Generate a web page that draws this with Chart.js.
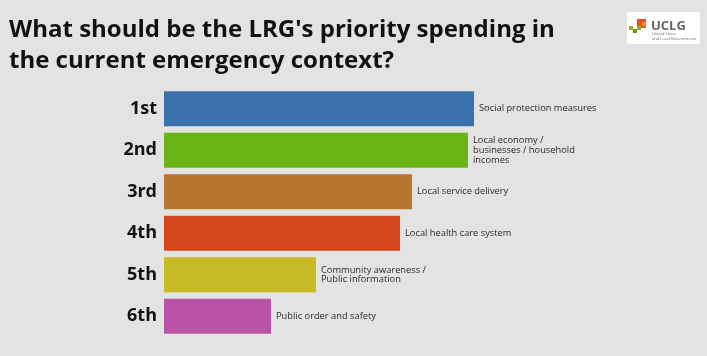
<!DOCTYPE html>
<html>
<head>
<meta charset="utf-8">
<script src="https://cdn.jsdelivr.net/npm/chart.js@4"></script>
<style>
  html, body { margin: 0; padding: 0; background: #e3e3e1; }
  #wrap { width: 707px; height: 356px; position: relative; }
</style>
</head>
<body>
<div id="wrap"><canvas id="c" width="707" height="356"></canvas></div>
<script>
const titleLines = ["What should be the LRG's priority spending in", "the current emergency context?"];
const ranks = ["1st", "2nd", "3rd", "4th", "5th", "6th"];
const priorities = [
  ["Social protection measures"],
  ["Local economy /", "businesses / household", "incomes"],
  ["Local service delivery"],
  ["Local health care system"],
  ["Community awareness /", "Public information"],
  ["Public order and safety"]
];
const scores = [310, 304, 248, 236, 152, 107];
const barColors = ["#3b72ad", "#6bb415", "#b9752f", "#d4481f", "#c8ba24", "#b853a5"];

const decor = {
  id: 'decor',
  afterDraw(chart) {
    const ctx = chart.ctx;
    ctx.save();
    // title
    ctx.fillStyle = '#111';
    ctx.font = 'bold 24px "Open Sans", sans-serif';
    ctx.textBaseline = 'alphabetic';
    ctx.textAlign = 'left';
    ctx.fillText(titleLines[0], 9, 37);
    ctx.fillText(titleLines[1], 9, 68);
    // logo
    ctx.fillStyle = '#ffffff';
    ctx.fillRect(627, 12, 73, 32);
    ctx.fillStyle = '#e8501e'; ctx.fillRect(637, 19, 9, 9);
    ctx.fillStyle = '#f08a2a'; ctx.fillRect(642, 22, 4, 4);
    ctx.fillStyle = '#8fae2a'; ctx.fillRect(629, 26, 4, 4);
    ctx.fillStyle = '#6f8f1e'; ctx.fillRect(633, 29, 4, 4);
    ctx.fillStyle = '#9aa53a'; ctx.fillRect(637, 26, 4, 4);
    ctx.fillStyle = '#666';
    ctx.font = 'bold 13px "Open Sans", sans-serif';
    ctx.fillText('UCLG', 651, 30);
    ctx.font = '4px "Open Sans", sans-serif';
    ctx.fillText('United Cities', 652, 35);
    ctx.fillText('and Local Governments', 652, 40);
    // category labels beside bars
    const meta = chart.getDatasetMeta(0);
    ctx.fillStyle = '#2a2a2a';
    ctx.font = '9.3px "Open Sans", sans-serif';
    ctx.textBaseline = 'middle';
    meta.data.forEach((bar, i) => {
      const lines = priorities[i];
      const lh = 9.7;
      const y0 = bar.y - (lines.length - 1) * lh / 2;
      lines.forEach((t, j) => ctx.fillText(t, bar.x + 5, y0 + j * lh));
    });
    ctx.restore();
  }
};

new Chart(document.getElementById('c'), {
  type: 'bar',
  data: {
    labels: ranks,
    datasets: [{
      data: scores,
      backgroundColor: barColors,
      borderWidth: 0,
      categoryPercentage: 0.84,
      barPercentage: 1.0
    }]
  },
  options: {
    indexAxis: 'y',
    responsive: false,
    animation: false,
    devicePixelRatio: 1,
    layout: { padding: { left: 0, right: 43, top: 88, bottom: 19 } },
    plugins: { legend: { display: false }, tooltip: { enabled: false }, title: { display: false } },
    scales: {
      x: { display: false, min: 0, max: 500 },
      y: {
        grid: { display: false, drawTicks: false },
        border: { display: false },
        ticks: {
          color: '#111',
          font: { family: '"Open Sans", sans-serif', weight: 'bold', size: 18 },
          padding: 7
        },
        afterFit(scale) { scale.width = 164; }
      }
    }
  },
  plugins: [decor]
});
</script>
</body>
</html>
